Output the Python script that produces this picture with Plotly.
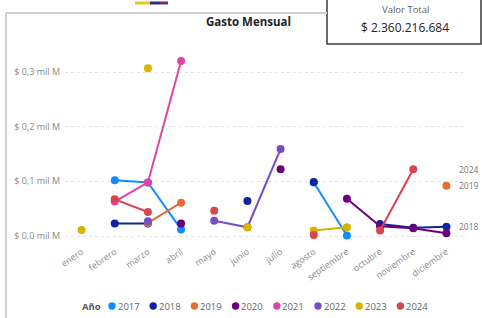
import plotly.graph_objects as go

months = ["enero", "febrero", "marzo", "abril", "mayo", "junio", "julio",
          "agosto", "septiembre", "octubre", "noviembre", "diciembre"]
years = ["2017", "2018", "2019", "2020", "2021", "2022", "2023", "2024"]
colors = ["#118DFF", "#12239E", "#E66C37", "#6B007B", "#E044A7", "#744EC2", "#D9B300", "#D64550"]

N = None
v2017 = [N, 0.102, 0.098, 0.012, N, N, N, 0.098, 0.001, N, N, N]
v2018 = [N, 0.023, 0.023, N, N, 0.064, N, 0.099, N, 0.022, 0.015, 0.017]
v2019 = [N, N, 0.024, 0.061, N, N, N, N, N, N, N, 0.092]
v2020 = [N, N, N, 0.023, N, N, 0.122, N, 0.068, 0.018, 0.014, 0.005]
v2021 = [N, 0.063, 0.098, 0.320, N, N, N, N, N, N, N, N]
v2022 = [N, N, 0.027, N, 0.028, 0.016, 0.159, N, N, N, N, N]
v2023 = [0.011, N, 0.307, N, N, 0.016, N, 0.010, 0.016, N, N, N]
v2024 = [N, 0.067, 0.044, N, 0.046, N, N, 0.002, N, 0.010, 0.122, N]
series = [v2017, v2018, v2019, v2020, v2021, v2022, v2023, v2024]

y_tickvals = [0.0, 0.1, 0.2, 0.3]
y_ticktext = ["$ 0,0 mil M", "$ 0,1 mil M", "$ 0,2 mil M", "$ 0,3 mil M"]
end_labels = ["2024", "2019", "2018"]

total_title = "Valor Total"
total_value = "$ 2.360.216.684"
chart_title = "Gasto Mensual"
legend_title = "Año"

W, H = 482, 318
ML, MR, MT, MB = 65, 19, 56, 74
PW, PH = W - ML - MR, H - MT - MB


def px(x):
    return (x - ML) / PW


def py(y):
    return (H - MB - y) / PH


FONT = "Open Sans"
fig = go.Figure()
for name, vals, col in zip(years, series, colors):
    fig.add_trace(go.Scatter(
        x=months, y=vals, name=name, mode="lines+markers",
        line=dict(color=col, width=2), marker=dict(color=col, size=8),
        connectgaps=False, showlegend=False))

upp = 0.3 / 164.0
fig.update_layout(
    width=W, height=H, margin=dict(l=ML, r=MR, t=MT, b=MB, autoexpand=False),
    paper_bgcolor="white", plot_bgcolor="white",
    font=dict(family=FONT, color="#777777", size=9),
    xaxis=dict(type="category", range=[-0.5, 11.5], showgrid=False, showline=False,
               zeroline=False, tickangle=-35, tickfont=dict(size=9, color="#8a8a8a"),
               ticks="", automargin=False),
    yaxis=dict(range=[-8 * upp, 0.3 + 16 * upp], tickvals=y_tickvals, ticktext=y_ticktext,
               showgrid=True, gridcolor="#e2e2e2", griddash="dot", gridwidth=1,
               zeroline=False, showline=False, tickfont=dict(size=9, color="#8a8a8a"),
               ticklabelstandoff=4, automargin=False),
    showlegend=False,
)


def note(text, x, y, size, color, xanchor="center"):
    return dict(text=text, x=px(x), y=py(y), xref="paper", yref="paper",
                xanchor=xanchor, yanchor="middle", showarrow=False,
                font=dict(size=size, color=color, family=FONT))


ann = []
ann.append(note("<b>" + chart_title + "</b>", 248, 22, 11.5, "#252423"))
ann.append(note(total_title, 405, 9, 9.5, "#605E5C"))
ann.append(note(total_value, 405, 28, 12, "#252423"))

# end labels
for lab in end_labels:
    i = years.index(lab)
    vals = series[i]
    last = [v for v in vals if v is not None][-1]
    ann.append(dict(text=lab, x=px(481), y=last, xref="paper", yref="y", xanchor="right",
                    yanchor="middle", showarrow=False,
                    font=dict(size=8.5, color="#777777", family=FONT)))

# legend
ann.append(note("<b>" + legend_title + "</b>", 80, 306, 9.5, "#555555", "left"))
shapes = []
for i, (name, col) in enumerate(zip(years, colors)):
    cx = 112 + i * 41.2
    shapes.append(dict(type="circle", xref="paper", yref="paper",
                       x0=px(cx - 3.7), x1=px(cx + 3.7), y0=py(306 + 3.7), y1=py(306 - 3.7),
                       fillcolor=col, line=dict(width=0)))
    ann.append(note(name, cx + 3.5, 306, 9.5, "#666666", "left"))

# frame lines
shapes.append(dict(type="line", xref="paper", yref="paper", x0=px(6), x1=px(6), y0=py(13), y1=py(330),
                   line=dict(color="#cfcfcf", width=2)))
shapes.append(dict(type="line", xref="paper", yref="paper", x0=px(6), x1=px(327), y0=py(13), y1=py(13),
                   line=dict(color="#cfcfcf", width=2)))
# card box
shapes.append(dict(type="rect", xref="paper", yref="paper", x0=px(327), x1=px(481), y0=py(-3), y1=py(44),
                   fillcolor="white", line=dict(color="#3a3a3a", width=1.5), layer="below"))
# small marks at top
for x0, x1, c in [(135, 150, "#E6C619"), (150, 160, "#2A2F7E"), (160, 168, "#7A2A6A")]:
    shapes.append(dict(type="rect", xref="paper", yref="paper", x0=px(x0), x1=px(x1),
                       y0=py(4.5), y1=py(1.5), fillcolor=c, line=dict(width=0)))

fig.update_layout(annotations=ann, shapes=shapes)
fig.write_html("out.html", config={"displayModeBar": False},
               post_script="document.body.style.margin='0';document.body.style.overflow='hidden';")
